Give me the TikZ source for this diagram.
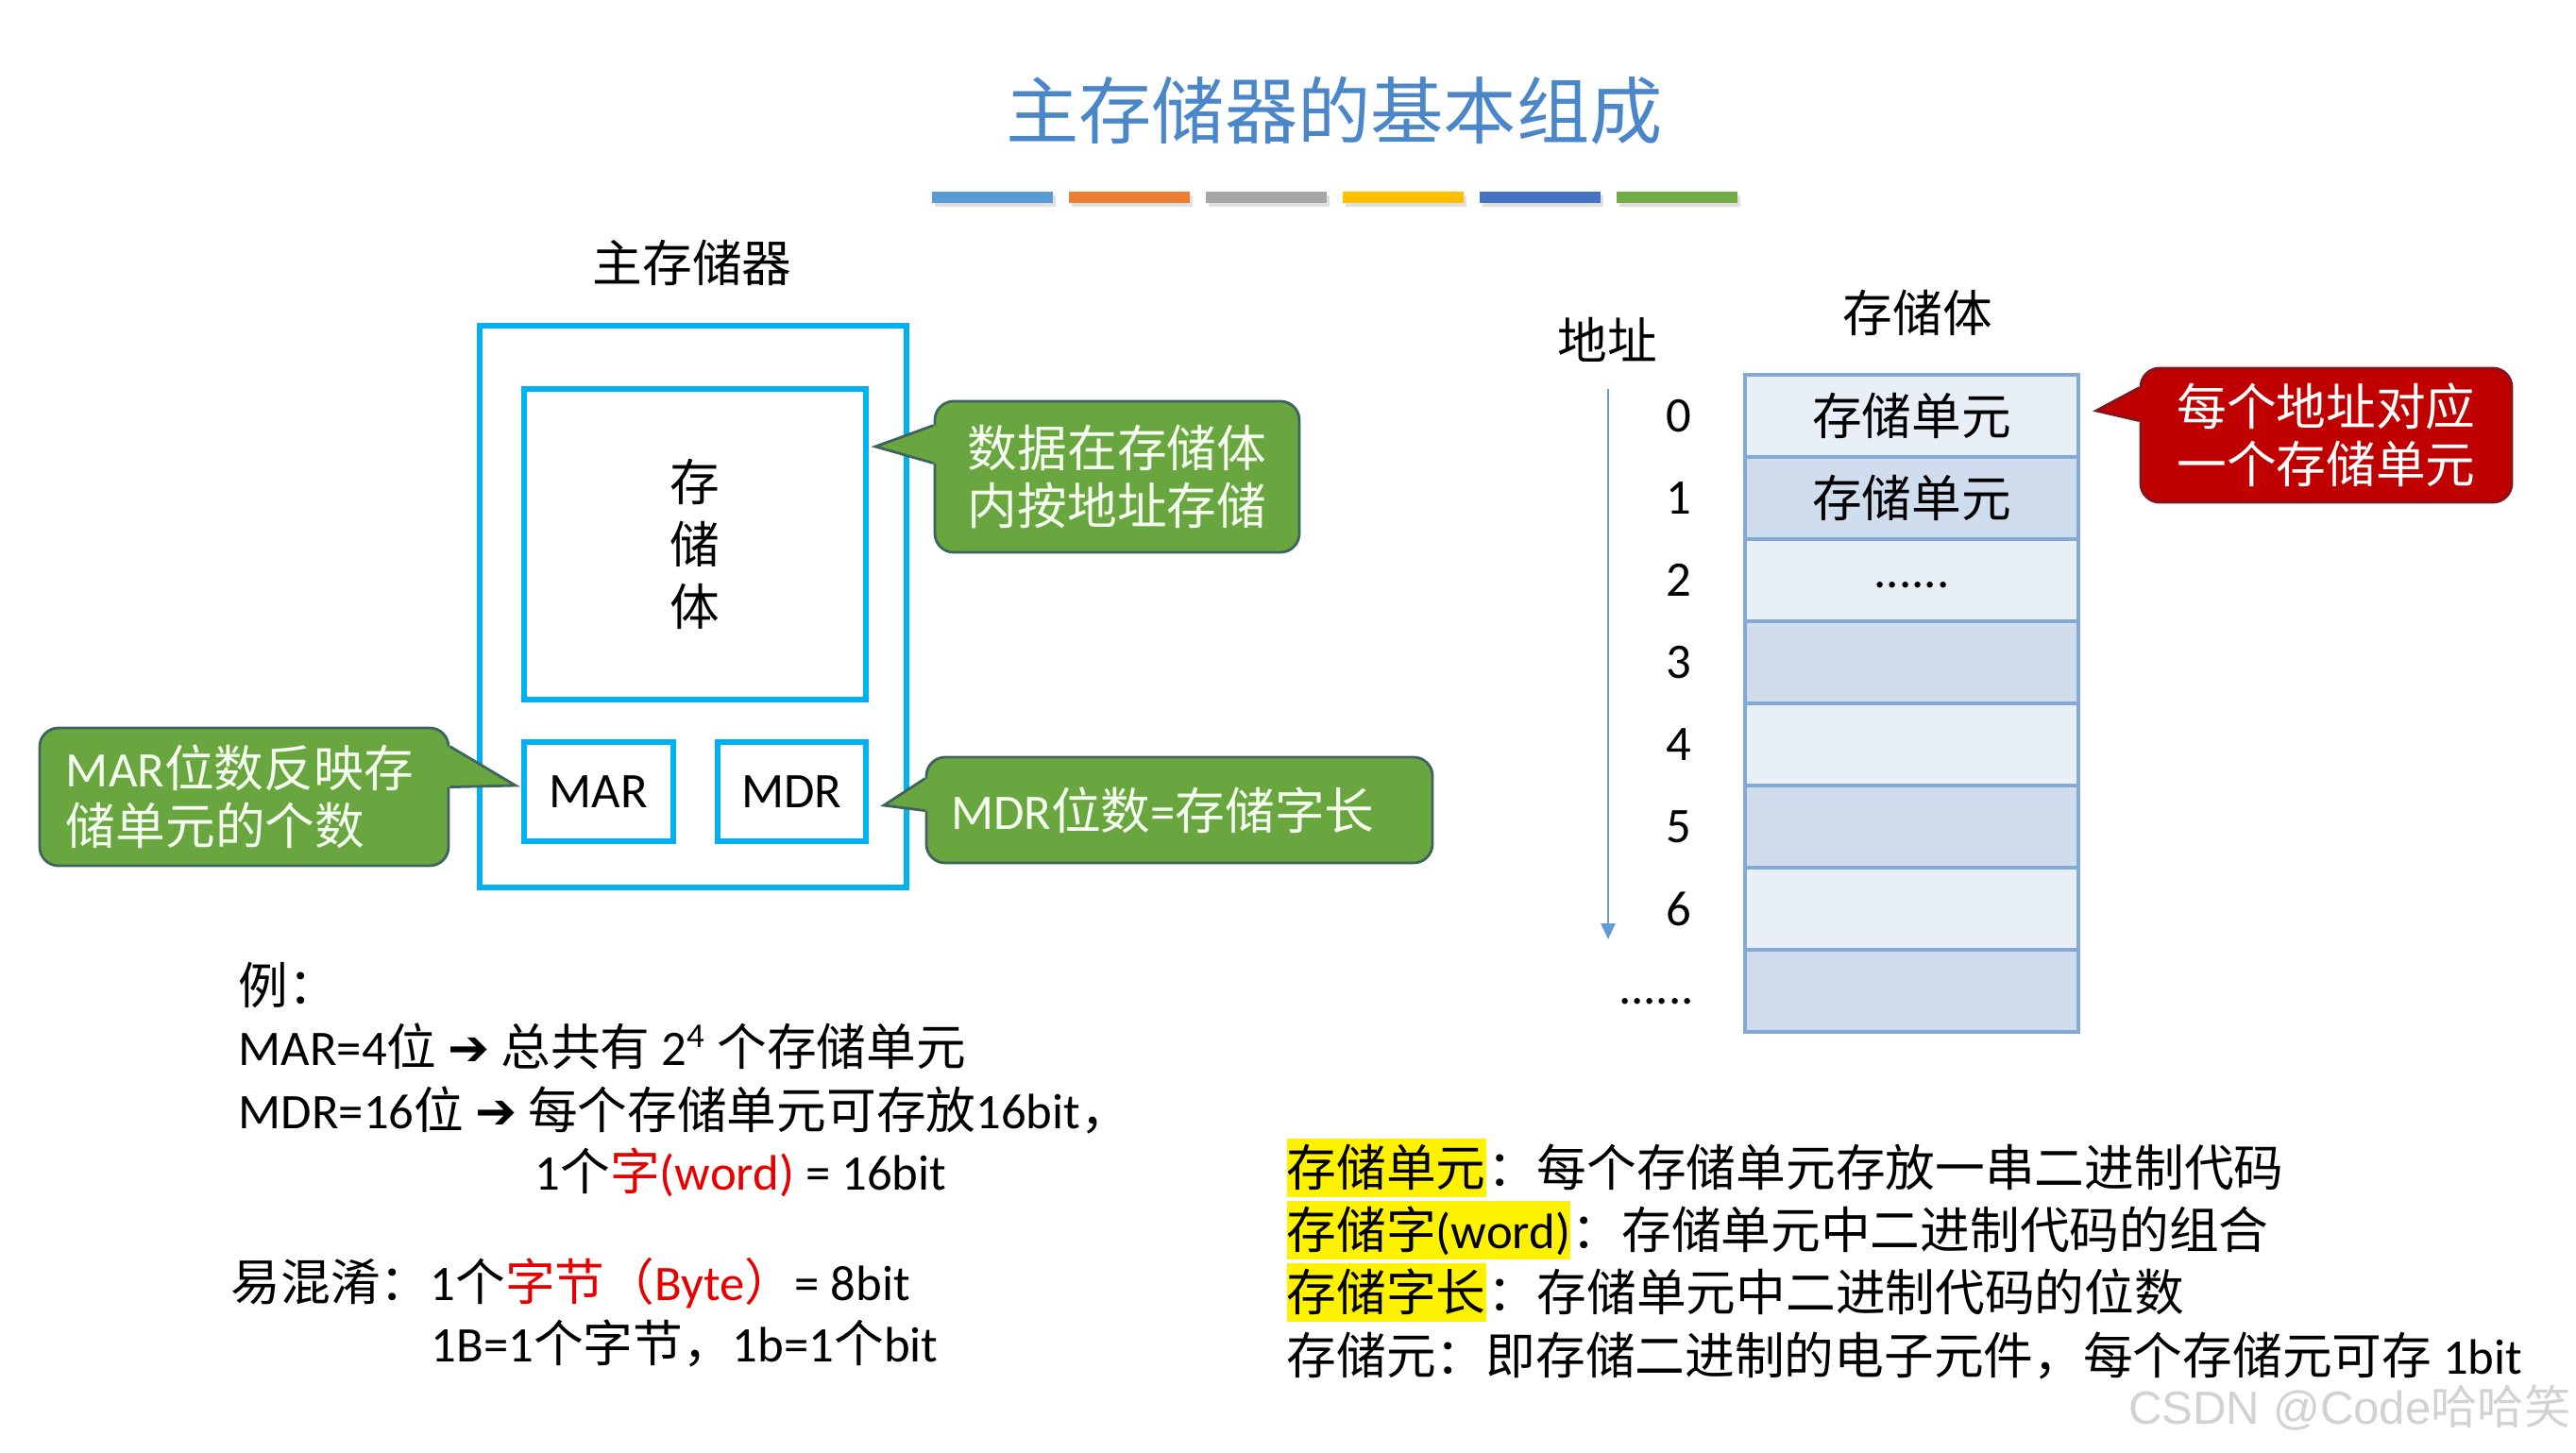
\documentclass[tikz,border=0pt]{standalone}
\usepackage{fontspec}
\setmainfont{Noto Sans CJK SC}
\newfontfamily\enfont{Carlito}
\newfontfamily\arrowfont{DejaVu Sans}
\newfontfamily\wmfont{Liberation Sans}
\usetikzlibrary{arrows.meta,positioning,calc,shadows}

\definecolor{titleblue}{RGB}{74,134,200}
\definecolor{barA}{RGB}{91,155,213}
\definecolor{barB}{RGB}{237,125,49}
\definecolor{barC}{RGB}{165,165,165}
\definecolor{barD}{RGB}{255,192,0}
\definecolor{barE}{RGB}{68,114,196}
\definecolor{barF}{RGB}{112,173,71}
\definecolor{boxcyan}{RGB}{0,176,240}
\definecolor{gfill}{RGB}{106,166,64}
\definecolor{gline}{RGB}{62,100,96}
\definecolor{rfill}{RGB}{192,0,0}
\definecolor{rline}{RGB}{130,20,30}
\definecolor{cellA}{RGB}{233,239,247}
\definecolor{cellB}{RGB}{207,221,238}
\definecolor{cellline}{RGB}{130,170,212}
\definecolor{arrowblue}{RGB}{100,155,210}
\definecolor{txtred}{RGB}{230,0,0}
\definecolor{callouttxt}{RGB}{245,255,240}

\begin{document}
\begin{tikzpicture}[
  x=1mm, y=-1mm,
  font=\fontsize{15}{17.3}\selectfont,
  memline/.style={draw=boxcyan, line width=1.6pt},
  regbox/.style={memline, minimum width=15.8mm, minimum height=10.5mm, font=\fontsize{15}{17}\selectfont\enfont},
  gcall/.style={draw=gline, line width=0.8pt, fill=gfill, rounded corners=2mm, text=callouttxt},
  rcall/.style={draw=rline, line width=0.8pt, fill=rfill, rounded corners=2mm, text=white},
  cell/.style={draw=cellline, line width=0.9pt, minimum width=35.3mm, minimum height=8.7mm, inner sep=0pt},
  addr/.style={font=\fontsize{15}{17}\selectfont\enfont},
  body/.style={anchor=west, inner sep=0pt},
  hl/.style={fill=yellow, inner sep=0pt, text height=14.6pt, text depth=3.3pt}
]
\useasboundingbox (0,0) rectangle (272.8,153.9);

% title and colour bars
\node[font=\fontsize{22}{24}\selectfont, text=titleblue] (title) at (141.3,11.7) {主存储器的基本组成};
\foreach \c [count=\k from 0] in {barA,barB,barC,barD,barE,barF}
  \path[fill=\c, drop shadow={opacity=0.25, shadow xshift=0.25mm, shadow yshift=-0.35mm}]
    (98.7+14.5*\k,20.3) rectangle ++(12.8,1.2);

% main memory
\node (memlbl) at (73.3,27.8) {主存储器};
\node[memline, minimum width=45.2mm, minimum height=59.5mm] (mem) at (73.4,64.25) {};
\node[memline, minimum width=36.2mm, minimum height=32.9mm, align=center,
      font=\fontsize{15}{18.8}\selectfont] (store) at (73.6,57.65) {存\\储\\体};
\node[regbox] (mar) at (63.4,83.85) {MAR};
\node[regbox, minimum width=15.7mm] (mdr) at (83.85,83.85) {MDR};

% callouts
\node[gcall, minimum width=38.6mm, minimum height=16mm, align=center] (c1) at (118.3,50.5) {数据在存储体\\内按地址存储};
\coordinate (tip1) at (92.7,47.3);
\fill[gfill] ($(c1.north west)+(1,2.7)$) -- ($(c1.north west)+(0,2.7)$) -- (tip1) -- ($(c1.north west)+(0,6.7)$) -- ($(c1.north west)+(1,6.7)$) -- cycle;
\draw[gline, line width=0.8pt] ($(c1.north west)+(0,2.7)$) -- (tip1) -- ($(c1.north west)+(0,6.7)$);

\node[gcall, minimum height=14.6mm, text width=37.7mm, inner xsep=2.8mm, align=left] (c2) at (25.85,84.4) {{\enfont MAR}位数反映存\\储单元的个数};
\coordinate (tip2) at (54.6,83.2);
\fill[gfill] ($(c2.north east)+(-1,2.1)$) -- ($(c2.north east)+(0,2.1)$) -- (tip2) -- ($(c2.north east)+(0,6.4)$) -- ($(c2.north east)+(-1,6.4)$) -- cycle;
\draw[gline, line width=0.8pt] ($(c2.north east)+(0,2.1)$) -- (tip2) -- ($(c2.north east)+(0,6.4)$);

\node[gcall, minimum height=11.2mm, text width=48.4mm, inner xsep=2.6mm, align=left] (c3) at (124.9,85.8) {{\enfont MDR}位数{\enfont =}存储字长};
\coordinate (tip3) at (93.6,85.3);
\fill[gfill] ($(c3.north west)+(1,2.4)$) -- ($(c3.north west)+(0,2.4)$) -- (tip3) -- ($(c3.north west)+(0,5.8)$) -- ($(c3.north west)+(1,5.8)$) -- cycle;
\draw[gline, line width=0.8pt] ($(c3.north west)+(0,2.4)$) -- (tip3) -- ($(c3.north west)+(0,5.8)$);

\node[rcall, minimum width=39.3mm, minimum height=14.2mm, align=center] (r1) at (246.35,46.1) {每个地址对应\\一个存储单元};
\coordinate (tip4) at (222.0,43.5);
\fill[rfill] ($(r1.north west)+(1,2.2)$) -- ($(r1.north west)+(0,2.2)$) -- (tip4) -- ($(r1.north west)+(0,5.7)$) -- ($(r1.north west)+(1,5.7)$) -- cycle;
\draw[rline, line width=0.8pt] ($(r1.north west)+(0,2.2)$) -- (tip4) -- ($(r1.north west)+(0,5.7)$);

% storage array
\node (arrlbl) at (203.1,33.1) {存储体};
\node (addrlbl) at (170.2,36.0) {地址};
\foreach \i/\c/\t in {0/cellA/存储单元,1/cellB/存储单元,2/cellA/{\enfont\raisebox{-0.8mm}[0pt][0pt]{......}},3/cellB/,4/cellA/,5/cellB/,6/cellA/,7/cellB/}
  \node[cell, fill=\c] (cell\i) at (202.45,44.05+8.7*\i) {\t};
\foreach \i in {0,...,6}
  \node[addr] (a\i) at (177.8,44.05+8.7*\i) {\i};
\node[addr] (adots) at (175.4,106.1) {......};
\coordinate (atop) at (170.3,41.2);
\coordinate (abot) at (170.3,99.5);
\draw[arrowblue, line width=0.8pt, -{Triangle[width=1.5mm,length=1.7mm]}] (atop) -- (abot);

% example text
\node[body] (ex0) at (25.2,104.4) {例：};
\node[body] (ex1) at (25.2,110.8) {{\enfont MAR=4}位 {\arrowfont ➔} 总共有 {\enfont 2\textsuperscript{4}} 个存储单元};
\node[body] (ex2) at (25.2,117.6) {{\enfont MDR=16}位 {\arrowfont ➔} 每个存储单元可存放{\enfont 16bit}，};
\node[body] (ex3) at (56.6,124.2) {{\enfont 1}个{\color{txtred}字{\enfont (word)}}{\enfont\ = 16bit}};
\node[body] (mix0) at (24.4,135.9) {易混淆：{\enfont 1}个{\color{txtred}字节（{\enfont Byte}）}{\enfont = 8bit}};
\node[body] (mix1) at (45.6,142.3) {{\enfont 1B=1}个字节，{\enfont 1b=1}个{\enfont bit}};

% terms
\node[hl, anchor=west] (kw1) at (136.2,123.7) {存储单元};
\node[body, anchor=base west] (df1) at (kw1.base east) {：每个存储单元存放一串二进制代码};
\node[hl, anchor=west] (kw2) at (136.2,130.3) {存储字{\enfont (word)}};
\node[body, anchor=base west] (df2) at (kw2.base east) {：存储单元中二进制代码的组合};
\node[hl, anchor=west] (kw3) at (136.2,136.9) {存储字长};
\node[body, anchor=base west] (df3) at (kw3.base east) {：存储单元中二进制代码的位数};
\node[body] (kw4) at (136.2,143.6) {存储元：即存储二进制的电子元件，每个存储元可存 {\enfont 1bit}};

\node[anchor=east, inner sep=0pt, text=gray!35, font=\fontsize{14}{16}\selectfont] (wm) at (272.3,149.1) {{\wmfont CSDN @Code}哈哈笑};
\end{tikzpicture}
\end{document}
